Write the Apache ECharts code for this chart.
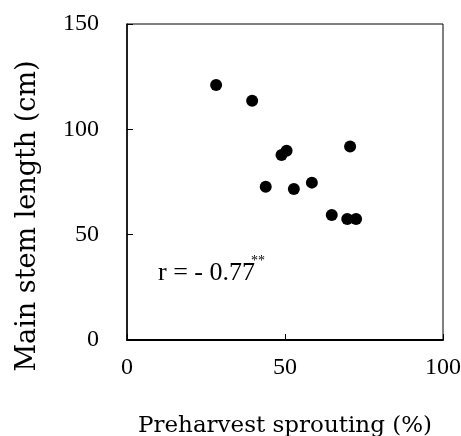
<!DOCTYPE html>
<html>
<head>
<meta charset="utf-8">
<script src="https://cdn.jsdelivr.net/npm/echarts@6/dist/echarts.min.js"></script>
<style>
html,body{margin:0;padding:0;background:#fff;}
#chart{width:461px;height:436px;}
</style>
</head>
<body>
<div id="chart"></div>
<script>
const sprouting = [28.2, 39.6, 48.9, 50.5, 70.6, 43.9, 52.8, 58.5, 64.8, 69.7, 72.5];
const stemLength = [121.0, 113.6, 87.8, 89.8, 91.8, 72.8, 71.7, 74.7, 59.3, 57.4, 57.4];
const xTicks = [0, 50, 100];
const yTicks = [0, 50, 100, 150];
const xTitle = 'Preharvest sprouting (%)';
const yTitle = 'Main stem length (cm)';
const rText = 'r = - 0.77';
const rSup = '**';

const font = '"Liberation Serif", "DejaVu Serif", serif';
const wideFont = '"DejaVu Serif", "Liberation Serif", serif';
const points = sprouting.map((x, i) => [x, stemLength[i]]);

const chart = echarts.init(document.getElementById('chart'), null, {renderer: 'canvas'});
chart.setOption({
  animation: false,
  backgroundColor: '#fff',
  grid: {left: 127, right: 18, top: 24, bottom: 96, show: true, borderColor: '#000', borderWidth: 1,
         containLabel: false, outerBoundsMode: 'none'},
  xAxis: {
    type: 'value', min: xTicks[0], max: xTicks[xTicks.length - 1], interval: 50,
    name: xTitle, nameLocation: 'middle', nameGap: 75,
    nameTextStyle: {fontFamily: wideFont, fontSize: 23, color: '#000'},
    axisLine: {show: true, lineStyle: {color: '#000', width: 2}},
    axisTick: {show: true, inside: true, length: 6, lineStyle: {color: '#000'}},
    axisLabel: {fontFamily: font, fontSize: 24, color: '#000', margin: 16},
    splitLine: {show: false}
  },
  yAxis: {
    type: 'value', min: yTicks[0], max: yTicks[yTicks.length - 1], interval: 50,
    name: yTitle, nameLocation: 'middle', nameGap: 86,
    nameTextStyle: {fontFamily: wideFont, fontSize: 27, color: '#000', padding: [0, 68, 0, 0]},
    axisLine: {show: true, lineStyle: {color: '#000', width: 1.5}},
    axisTick: {show: true, inside: true, length: 6, lineStyle: {color: '#000'}},
    axisLabel: {fontFamily: font, fontSize: 24, color: '#000', margin: 28},
    splitLine: {show: false}
  },
  graphic: [
    {type: 'text', left: 158, top: 260, style: {text: rText, fontFamily: font, fontSize: 26, fill: '#000'}},
    {type: 'text', left: 251, top: 254, style: {text: rSup, fontFamily: font, fontSize: 14, fill: '#000'}}
  ],
  series: [{
    type: 'scatter',
    data: points,
    symbol: 'circle',
    symbolSize: 12,
    itemStyle: {color: '#000', opacity: 1}
  }]
});
</script>
</body>
</html>
